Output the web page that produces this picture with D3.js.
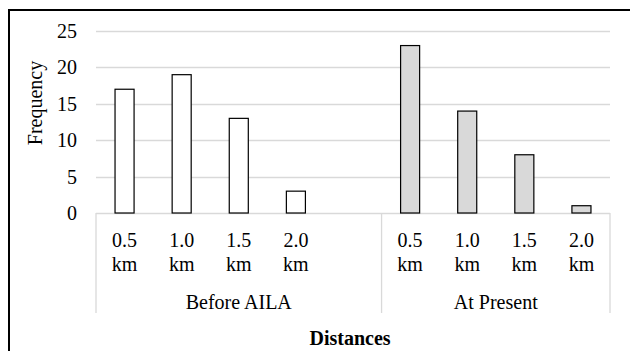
<!DOCTYPE html>
<html>
<head>
<meta charset="utf-8">
<script src="https://cdn.jsdelivr.net/npm/d3@7"></script>
<style>
  body { margin: 0; background: #fff; }
  text { font-family: "Liberation Serif", "Times New Roman", serif; fill: #000; }
</style>
</head>
<body>
<svg id="chart" width="630" height="351"></svg>
<script>
// chart data
var groups = ["Before AILA", "At Present"];
var distances = ["0.5 km", "1.0 km", "1.5 km", "2.0 km"];
var beforeAila = [17, 19, 13, 3];
var atPresent = [23, 14, 8, 1];
var yTicks = [0, 5, 10, 15, 20, 25];

// build the slots: 4 before, one empty slot, 4 at present
var slots = [];
distances.forEach(function(d, i) {
  slots.push({ key: "b" + i, group: 0, label: d, value: beforeAila[i] });
});
slots.push({ key: "b-gap", group: 0, label: "", value: null });
distances.forEach(function(d, i) {
  slots.push({ key: "p" + i, group: 1, label: d, value: atPresent[i] });
});

var svg = d3.select("#chart");

var plotLeft = 96, plotRight = 610, plotTop = 31, plotBottom = 213;

// outer frame
svg.append("rect")
  .attr("x", 9).attr("y", 10)
  .attr("width", 660).attr("height", 400)
  .attr("fill", "none")
  .attr("stroke", "#000")
  .attr("stroke-width", 2);

var x = d3.scaleBand()
  .domain(slots.map(d => d.key))
  .range([plotLeft, plotRight])
  .paddingInner(2 / 3)
  .paddingOuter(1 / 3);

var y = d3.scaleLinear()
  .domain([0, 25])
  .range([plotBottom, plotTop]);

// gridlines
svg.append("g")
  .selectAll("line")
  .data(yTicks.filter(d => d > 0))
  .join("line")
  .attr("x1", plotLeft).attr("x2", plotRight)
  .attr("y1", d => Math.round(y(d)) + 0.5)
  .attr("y2", d => Math.round(y(d)) + 0.5)
  .attr("stroke", "#d9d9d9")
  .attr("stroke-width", 1.3);

// y tick labels
svg.append("g")
  .selectAll("text")
  .data(yTicks)
  .join("text")
  .attr("x", 77)
  .attr("y", d => y(d))
  .attr("dy", "0.35em")
  .attr("text-anchor", "end")
  .attr("font-size", 20)
  .text(d => d);

// y axis title
svg.append("text")
  .attr("transform", "translate(35,103) rotate(-90)")
  .attr("text-anchor", "middle")
  .attr("dy", "0.35em")
  .attr("font-size", 20)
  .text("Frequency");

// category box lines
var step = x.step();
var groupEdges = [plotLeft, plotLeft + step * 5, plotRight];
var axisG = svg.append("g")
  .attr("stroke", "#d9d9d9")
  .attr("stroke-width", 1.3);
axisG.append("line")
  .attr("x1", plotLeft).attr("x2", plotRight)
  .attr("y1", plotBottom + 0.5).attr("y2", plotBottom + 0.5);
axisG.selectAll(".edge")
  .data(groupEdges)
  .join("line")
  .attr("class", "edge")
  .attr("x1", d => d).attr("x2", d => d)
  .attr("y1", plotBottom).attr("y2", 313);

// bars
svg.append("g")
  .selectAll("rect")
  .data(slots.filter(d => d.value !== null))
  .join("rect")
  .attr("x", d => x(d.key))
  .attr("y", d => y(d.value))
  .attr("width", x.bandwidth())
  .attr("height", d => y(0) - y(d.value))
  .attr("fill", d => d.group === 0 ? "#ffffff" : "#d9d9d9")
  .attr("stroke", "#000")
  .attr("stroke-width", 1.2);

// category labels (two lines)
var catLabels = svg.append("g")
  .selectAll("text")
  .data(slots.filter(d => d.label !== ""))
  .join("text")
  .attr("text-anchor", "middle")
  .attr("font-size", 20);
catLabels.append("tspan")
  .attr("x", d => x(d.key) + x.bandwidth() / 2)
  .attr("y", 247)
  .text(d => d.label.split(" ")[0]);
catLabels.append("tspan")
  .attr("x", d => x(d.key) + x.bandwidth() / 2)
  .attr("y", 271)
  .text(d => d.label.split(" ")[1]);

// group labels
svg.append("g")
  .selectAll("text")
  .data(groups)
  .join("text")
  .attr("x", (d, i) => (groupEdges[i] + groupEdges[i + 1]) / 2)
  .attr("y", 309)
  .attr("text-anchor", "middle")
  .attr("font-size", 20)
  .text(d => d);

// x axis title
svg.append("text")
  .attr("x", 350)
  .attr("y", 345)
  .attr("text-anchor", "middle")
  .attr("font-size", 20)
  .attr("font-weight", "bold")
  .text("Distances");
</script>
</body>
</html>
